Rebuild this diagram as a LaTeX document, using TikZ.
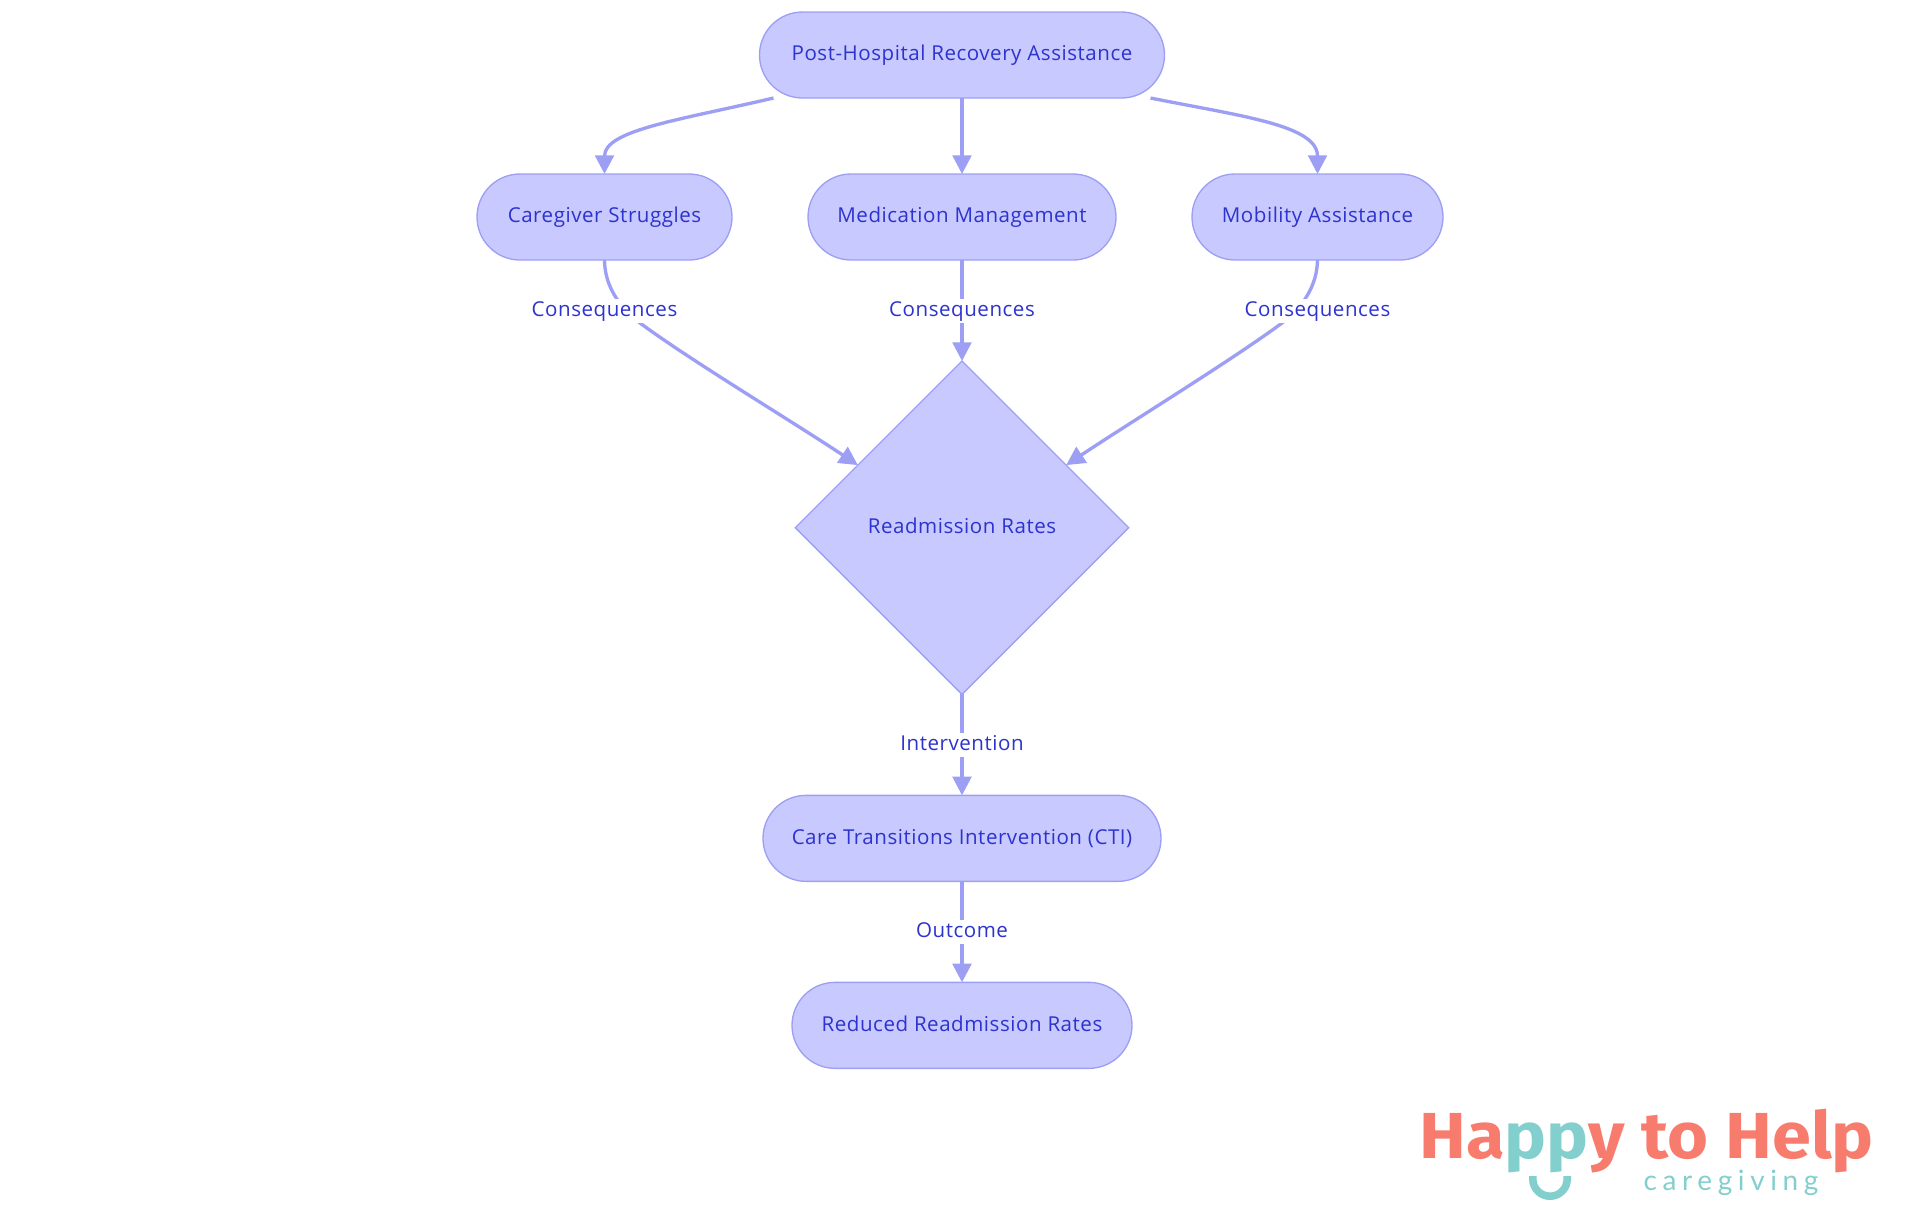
\documentclass[tikz,border=0pt]{standalone}
\usepackage{fontspec}
\setmainfont[LetterSpace=2.6]{Open Sans}
\newfontfamily\logoHead[FakeStretch=1.08]{Fira Sans}
\newfontfamily\logoSub[LetterSpace=20]{Lato}
\definecolor{colorFill}{HTML}{C8C9FE}
\definecolor{colorLine}{HTML}{9D9FF4}
\definecolor{colorText}{HTML}{2D33CE}
\definecolor{colorCoral}{HTML}{F87C6E}
\definecolor{colorTeal}{HTML}{82CFCE}
\usetikzlibrary{arrows.meta, positioning, shapes.geometric}
\tikzset{
  step box/.style={draw=colorLine, fill=colorFill, line width=1pt, text=colorText, font=\fontsize{15.4}{17}\selectfont, text height=12.6pt, text depth=4pt, rounded corners=32.25pt, minimum height=64.5pt, inner sep=0pt, outer sep=0pt},
  flow label/.style={fill=white, text=colorText, font=\fontsize{15.4}{17}\selectfont, text height=12.6pt, text depth=4pt, minimum height=18pt, inner sep=0pt}
}

\begin{document}
\begin{tikzpicture}[>={Triangle[width=14pt, length=14pt]}, x=0.75pt, y=-0.75pt, node distance=57pt, every path/.style={line width=2.5pt}]
\useasboundingbox (0,0) rectangle (1920,1215);
\node[step box, minimum width=303.75pt] (post) at (962,55) {Post-Hospital Recovery Assistance};
\node[step box, minimum width=231pt, below=of post] (med) {Medication Management};
\node[step box, minimum width=191.25pt, left=of med] (care) {Caregiver Struggles};
\node[step box, minimum width=188.25pt, right=of med] (mob) {Mobility Assistance};
\node[diamond, draw=colorLine, fill=colorFill, line width=1pt, text=colorText, font=\fontsize{15.4}{17}\selectfont, text height=12.6pt, text depth=4pt, minimum width=250pt, minimum height=250pt, inner sep=0pt, outer sep=0pt, below=75.75pt of med] (rates) {Readmission Rates};
\node[step box, minimum width=298.5pt, below=75.75pt of rates] (cti) {Care Transitions Intervention (CTI)};
\node[step box, minimum width=255pt, below=75.75pt of cti] (reduced) {Reduced Readmission Rates};
\draw [->, colorLine] (post) -- (med);
\draw [->, colorLine] ([xshift=10.5pt]post.south west) .. controls (680,120) and (care.south |- 0,130) .. (care.north);
\draw [->, colorLine] ([xshift=-10.5pt]post.south east) .. controls (1240,116) and (mob.south |- 0,125) .. (mob.north);
\draw [->, colorLine] (med) -- node[flow label] (lmed) {Consequences} (rates);
\draw [->, colorLine] (care.south) .. controls (604.7,285) and (618,306) .. (640,323) .. controls (690,360) and (790,420) .. (rates.149);
\draw [->, colorLine] (mob.south) .. controls (1317,285) and (1304,306) .. (1282,323) .. controls (1232,360) and (1134,420) .. (rates.31);
\node[flow label] (lcare) at (care |- lmed) {Consequences};
\node[flow label] (lmob) at (mob |- lmed) {Consequences};
\draw [->, colorLine] (rates) -- node[flow label] (lint) {Intervention} (cti);
\draw [->, colorLine] (cti) -- node[flow label] (lout) {Outcome} (reduced);
\node[anchor=base west, inner sep=0pt, text=colorCoral, font=\logoHead\bfseries\fontsize{48.8}{52}\selectfont] (happy) at (1418,1158.5) {Ha\textcolor{colorTeal}{pp}y to Help};
\node[anchor=base west, inner sep=0pt, text=colorTeal, font=\logoSub\fontsize{21}{26}\selectfont] (giving) at (1642,1190) {caregiving};
\draw [colorTeal, line width=5.7pt] (1532.8,1176) -- (1532.8,1179) arc[start angle=180, end angle=360, radius=12.9pt] -- (1567.2,1176);
\end{tikzpicture}
\end{document}
